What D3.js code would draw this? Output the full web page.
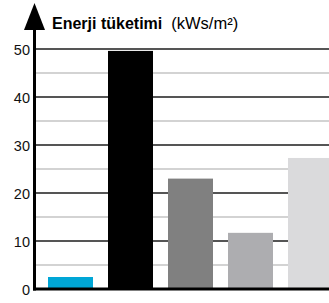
<!DOCTYPE html>
<html><head><meta charset="utf-8">
<script src="https://cdn.jsdelivr.net/npm/d3@7"></script>
<style>body{margin:0;background:#fff}svg{display:block}</style>
</head><body>
<script>
const categories = ["A", "B", "C", "D", "E"];
const values = [2.5, 49.6, 23.0, 11.7, 27.3];
const barColors = ["#00a6d6", "#000000", "#808080", "#adadb0", "#dadadc"];
const majorTicks = [0, 10, 20, 30, 40, 50];
const minorTicks = [5, 15, 25, 35, 45];
const titleBold = "Enerji tüketimi";
const titleUnit = "(kWs/m²)";

const W = 329, H = 303;
const svg = d3.select("body").append("svg").attr("width", W).attr("height", H);

const y = d3.scaleLinear().domain([0, 50]).range([289, 49]);
const x = d3.scaleBand().domain(categories).range([40.5, 340.5]).paddingInner(0.25).paddingOuter(0.125);

// minor gridlines
svg.selectAll(".minor").data(minorTicks).enter().append("line")
  .attr("x1", 35).attr("x2", W)
  .attr("y1", d => y(d)).attr("y2", d => y(d))
  .attr("stroke", "#c4c4c4").attr("stroke-width", 1.5);

// major gridlines
svg.selectAll(".major").data(majorTicks.filter(d => d > 0)).enter().append("line")
  .attr("x1", 35).attr("x2", W)
  .attr("y1", d => y(d)).attr("y2", d => y(d))
  .attr("stroke", "#555").attr("stroke-width", 2);

// bars
svg.selectAll(".bar").data(values).enter().append("rect")
  .attr("x", (d, i) => x(categories[i]))
  .attr("width", x.bandwidth())
  .attr("y", d => y(d))
  .attr("height", d => y(0) - y(d))
  .attr("fill", (d, i) => barColors[i]);

// baseline
svg.append("line").attr("x1", 33).attr("x2", W).attr("y1", y(0)).attr("y2", y(0))
  .attr("stroke", "#000").attr("stroke-width", 3);

// vertical axis
svg.append("line").attr("x1", 34.5).attr("x2", 34.5).attr("y1", 28).attr("y2", y(0) + 1.5)
  .attr("stroke", "#000").attr("stroke-width", 3);
// arrow head
svg.append("path").attr("d", "M34.5,3 L45,30 L24,30 Z").attr("fill", "#000");

// tick labels
const yAxis = d3.axisLeft(y).tickValues(majorTicks).tickSize(0).tickPadding(0);
const ax = svg.append("g").attr("transform", "translate(30,0)").call(yAxis);
ax.select(".domain").remove();
ax.selectAll("text").attr("font-family", "Liberation Sans, Arial, sans-serif")
  .attr("font-size", 14.5).attr("fill", "#111").attr("dy", "0.36em");

// title
const t = svg.append("text").attr("x", 52).attr("y", 29)
  .attr("font-family", "Liberation Sans, Arial, sans-serif").attr("font-size", 16).attr("fill", "#000");
t.append("tspan").attr("font-weight", "bold").text(titleBold);
t.append("tspan").attr("dx", 9).attr("font-size", 16.5).text(titleUnit);
</script>
</body></html>
